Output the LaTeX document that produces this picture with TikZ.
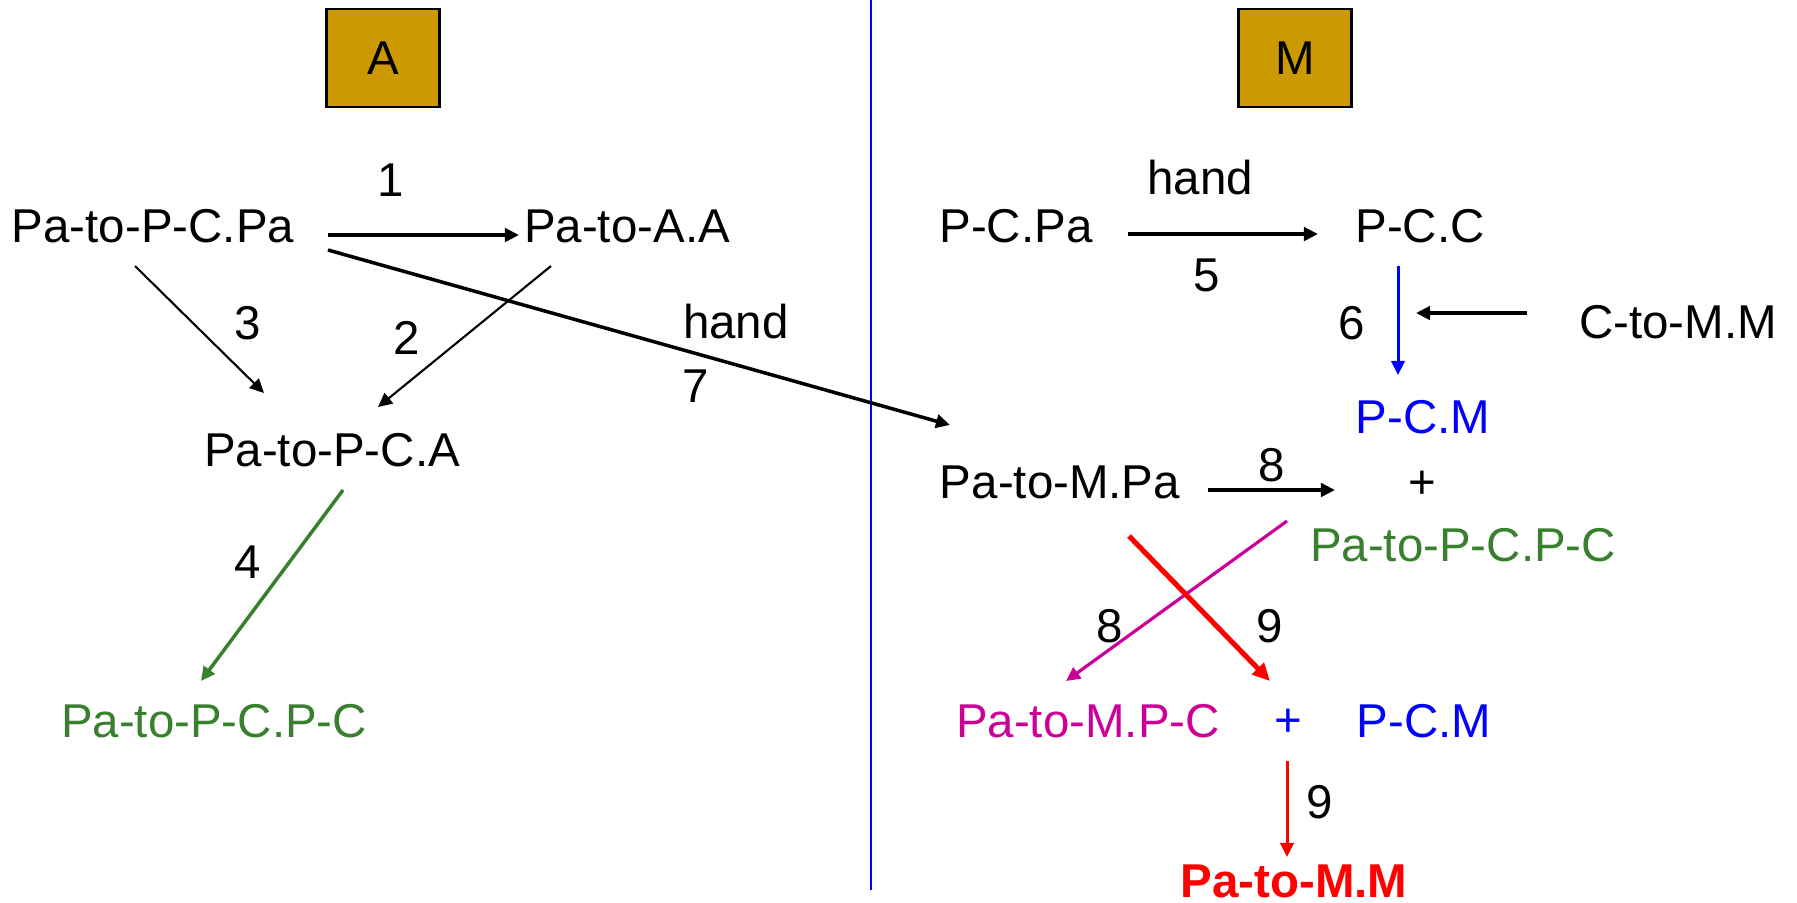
\documentclass[tikz,border=0pt]{standalone}
\usepackage{fontspec}
\setmainfont{Liberation Sans}
\usetikzlibrary{arrows.meta}

\definecolor{gold}{RGB}{204,153,0}
\definecolor{leaf}{RGB}{56,128,46}
\definecolor{plum}{RGB}{204,0,153}

\begin{document}
\begin{tikzpicture}[x=0.01cm, y=-0.01cm,
    >={Triangle[length=4pt,width=3.8pt]},
    every node/.style={inner sep=0pt, font=\fontsize{13.5}{16}\selectfont},
    tag/.style={draw=black, line width=0.7pt, fill=gold,
      minimum width=1.13cm, minimum height=0.98cm},
    arrlight/.style={->, line width=0.6pt},
    arrmid/.style={->, line width=1pt}]
    \useasboundingbox (0,0) rectangle (1797,902);

    % divider
    \draw[blue, line width=0.5pt] (871,0) -- (871,890);

    \node[tag] (boxA) at (383,58) {A};
    \node[tag] (boxM) at (1295,58) {M};

    % left side
    \node (pcpa) at (153,226) {Pa-to-P-C.Pa};
    \node (paa) at (627,226) {Pa-to-A.A};
    \node (pca) at (332,450) {Pa-to-P-C.A};
    \node[text=leaf] (pcpcl) at (214,721) {Pa-to-P-C.P-C};

    \node (n1) at (391,180) {1};
    \node (n3) at (248,323) {3};
    \node (n2) at (407,338) {2};
    \node (handa) at (736,322) {hand};
    \node (n7) at (696,386) {7};
    \node (n4) at (248,562) {4};

    % right side
    \node (pcpar) at (1016,226) {P-C.Pa};
    \node (pcc) at (1420,226) {P-C.C};
    \node (ctm) at (1678,322) {C-to-M.M};
    \node[text=blue] (pcm) at (1423,417) {P-C.M};
    \node (mpa) at (1060,482) {Pa-to-M.Pa};
    \node (plusa) at (1422,485) {+};
    \node[text=leaf] (pcpcr) at (1463,545) {Pa-to-P-C.P-C};
    \node[text=plum] (mpc) at (1088,721) {Pa-to-M.P-C};
    \node[text=blue] (plusb) at (1288,723) {+};
    \node[text=blue] (pcmb) at (1424,721) {P-C.M};
    \node[text=red, font=\fontsize{13.5}{16}\selectfont\bfseries] (mm) at (1294,881) {Pa-to-M.M};

    \node (handb) at (1200,178) {hand};
    \node (n5) at (1207,275) {5};
    \node (n6) at (1352,323) {6};
    \node (n8a) at (1272,465) {8};
    \node (n8b) at (1110,626) {8};
    \node (n9a) at (1270,626) {9};
    \node (n9b) at (1320,802) {9};

    % arrows
    \draw[arrmid] ([shift={(175,9)}]pcpa.center) -- ([shift={(-108,9)}]paa.center);
    \draw[arrlight] ([shift={(-18,40)}]pcpa.center) -- ([shift={(-68,-57)}]pca.center);
    \draw[arrlight] ([shift={(-76,40)}]paa.center) -- ([shift={(46,-43)}]pca.center);
    \draw[arrmid] ([shift={(175,24)}]pcpa.center) -- ([shift={(-110,-57)}]mpa.center);
    \draw[arrmid, leaf] ([shift={(11,40)}]pca.center) -- ([shift={(-13,-40)}]pcpcl.center);

    \draw[arrmid] ([shift={(112,8)}]pcpar.center) -- ([shift={(-102,8)}]pcc.center);
    \draw[arrmid, blue, line width=0.85pt] ([shift={(-22,40)}]pcc.center) -- ([shift={(-25,-42)}]pcm.center);
    \draw[arrmid] ([shift={(-151,-9)}]ctm.center) -- ([shift={(-4,87)}]pcc.center);
    \draw[arrmid] ([shift={(148,8)}]mpa.center) -- ([shift={(-87,5)}]plusa.center);
    \draw[arrmid, plum, line width=0.9pt] ([shift={(-176,-24)}]pcpcr.center) -- ([shift={(-22,-40)}]mpc.center);
    \draw[->, red, line width=1.45pt, >={Triangle[length=5pt,width=4.6pt]}]
      ([shift={(69,54)}]mpa.center) -- ([shift={(-18,-42)}]plusb.center);
    \draw[arrmid, red, line width=0.85pt] ([shift={(-1,38)}]plusb.center) -- ([shift={(-7,-24)}]mm.center);
\end{tikzpicture}
\end{document}
